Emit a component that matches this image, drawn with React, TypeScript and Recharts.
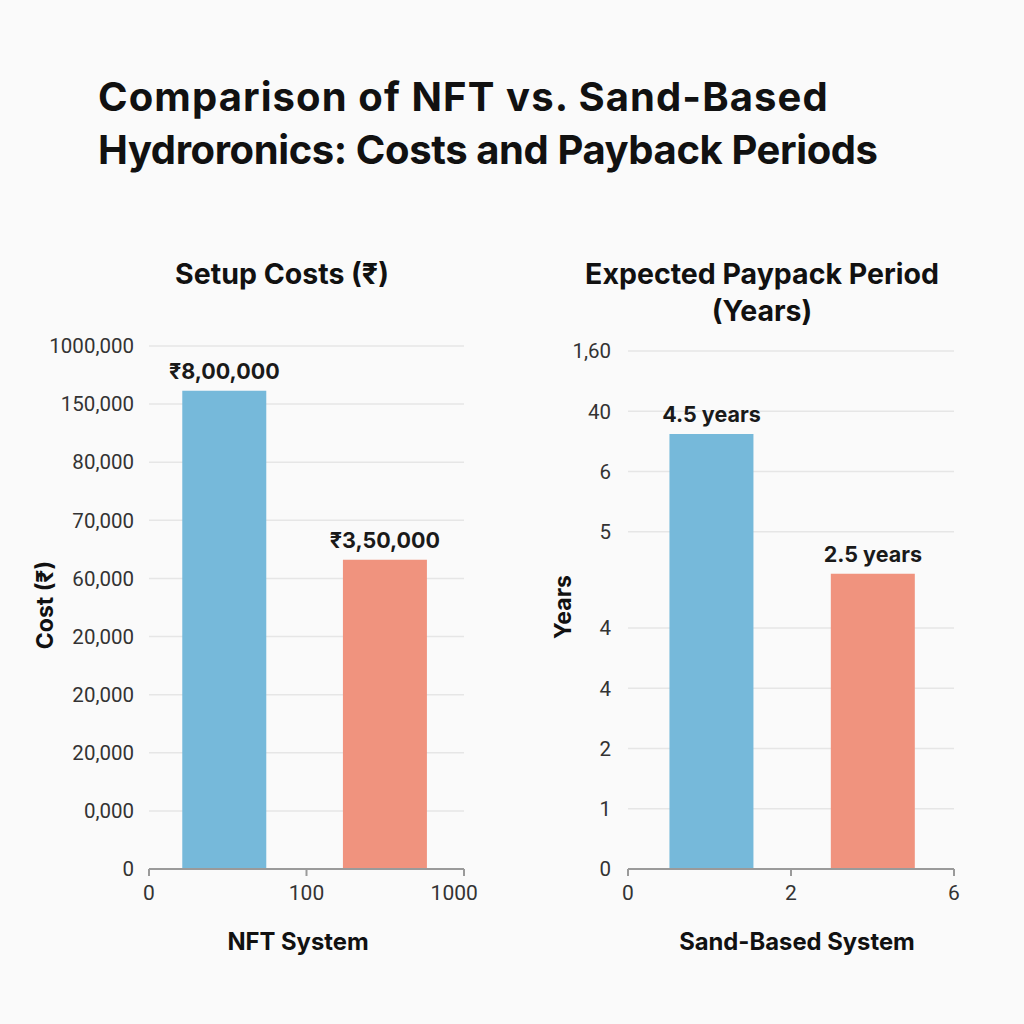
import { BarChart, Bar, XAxis, YAxis, CartesianGrid, Cell, LabelList } from "recharts";

const barColors = ["#76b9da", "#f0937e"];

// left panel: setup costs (heights in grid steps as drawn)
const costPositions = [0.48, 1.5];
const costHeights = [8.23, 5.32];
const costValueLabels = ["₹8,00,000", "₹3,50,000"];
const costYTicks = [0, 1, 2, 3, 4, 5, 6, 7, 8, 9];
const costYTickLabels = ["0", "0,000", "20,000", "20,000", "20,000", "60,000", "70,000", "80,000", "150,000", "1000,000"];
const costXTickLabels = ["0", "100", "1000"];

// right panel: payback period
const paybackPositions = [0.51, 1.5];
const paybackHeights = [7.22, 4.9];
const paybackValueLabels = ["4.5 years", "2.5 years"];
const paybackYTicks = [0, 1, 2, 3, 4, 5.6, 6.6, 7.6, 8.6];
const paybackYTickLabels = ["0", "1", "2", "4", "4", "5", "6", "40", "1,60"];
const paybackXTickLabels = ["0", "2", "6"];

const font = "Inter, Roboto, sans-serif";
const tickFont = "Roboto, sans-serif";

function Panel({ left, width, yWidth, yMargin, topPad, positions, heights, valueLabels, yTicks, yTickLabels, xTickLabels }: any) {
  const data = heights.map((h: number, i: number) => ({ pos: positions[i], h, label: valueLabels[i] }));
  const yMax = yTicks[yTicks.length - 1];
  return (
    <div style={{ position: "absolute", left, top: 330 }}>
      <BarChart width={width} height={579} data={data} margin={{ top: topPad, right: 16, bottom: 0, left: 0 }}>
        <CartesianGrid vertical={false} stroke="#e6e6e6" strokeWidth={1.5} />
        <XAxis
          type="number"
          dataKey="pos"
          domain={[0, 2]}
          ticks={[0, 1, 2]}
          tickFormatter={(v: number) => xTickLabels[v]}
          height={40}
          stroke="#9a9a9a"
          strokeWidth={2}
          tickSize={7}
          tickMargin={9}
          tick={{ fontSize: 21, fill: "#333", fontFamily: tickFont }}
        />
        <YAxis
          type="number"
          domain={[0, yMax]}
          ticks={yTicks}
          interval={0}
          tickFormatter={(v: number) => yTickLabels[yTicks.indexOf(v)]}
          width={yWidth}
          axisLine={false}
          tickLine={false}
          tickMargin={yMargin}
          tick={{ fontSize: 20.5, fill: "#333", fontFamily: tickFont }}
        />
        <Bar dataKey="h" barSize={84} isAnimationActive={false}>
          {data.map((_: any, i: number) => (
            <Cell key={i} fill={barColors[i]} />
          ))}
          <LabelList dataKey="label" position="top" offset={12} style={{ fontSize: 21.5, fontWeight: 700, fill: "#1a1a1a", fontFamily: font }} />
        </Bar>
      </BarChart>
    </div>
  );
}

export default function App() {
  const abs = (s: any) => ({ position: "absolute" as const, fontFamily: font, color: "#111", ...s });
  return (
    <div style={{ position: "absolute", left: 0, top: 0, width: 1024, height: 1024, background: "#fafafa", overflow: "hidden" }}>
      <div style={abs({ left: 98, top: 70, fontSize: 40, fontWeight: 700, lineHeight: "53px", whiteSpace: "nowrap" })}>
        <span style={{ letterSpacing: 1.1 }}>Comparison of NFT vs. Sand-Based</span>
        <br />
        <span style={{ letterSpacing: -0.4 }}>Hydroronics: Costs and Payback Periods</span>
      </div>
      <div style={abs({ left: 82, width: 400, top: 256, textAlign: "center", fontSize: 28.5, fontWeight: 700 })}>Setup Costs (₹)</div>
      <div style={abs({ left: 562, width: 400, top: 255, textAlign: "center", fontSize: 28.5, fontWeight: 700, lineHeight: "37px" })}>
        Expected Paypack Period
        <br />
        (Years)
      </div>
      <Panel left={0} width={480} yWidth={149} yMargin={9} topPad={16} positions={costPositions} heights={costHeights} valueLabels={costValueLabels} yTicks={costYTicks} yTickLabels={costYTickLabels} xTickLabels={costXTickLabels} />
      <Panel left={480} width={490} yWidth={148} yMargin={11} topPad={21} positions={paybackPositions} heights={paybackHeights} valueLabels={paybackValueLabels} yTicks={paybackYTicks} yTickLabels={paybackYTickLabels} xTickLabels={paybackXTickLabels} />
      <div style={abs({ left: 45 - 100, top: 591, width: 200, textAlign: "center", fontSize: 23, fontWeight: 700, transform: "rotate(-90deg)" })}>Cost (₹)</div>
      <div style={abs({ left: 563 - 100, top: 593, width: 200, textAlign: "center", fontSize: 23, fontWeight: 700, transform: "rotate(-90deg)" })}>Years</div>
      <div style={abs({ left: 98, width: 400, top: 927, textAlign: "center", fontSize: 23.8, fontWeight: 700 })}>NFT System</div>
      <div style={abs({ left: 597, width: 400, top: 927, textAlign: "center", fontSize: 23.8, fontWeight: 700 })}>Sand-Based System</div>
    </div>
  );
}
